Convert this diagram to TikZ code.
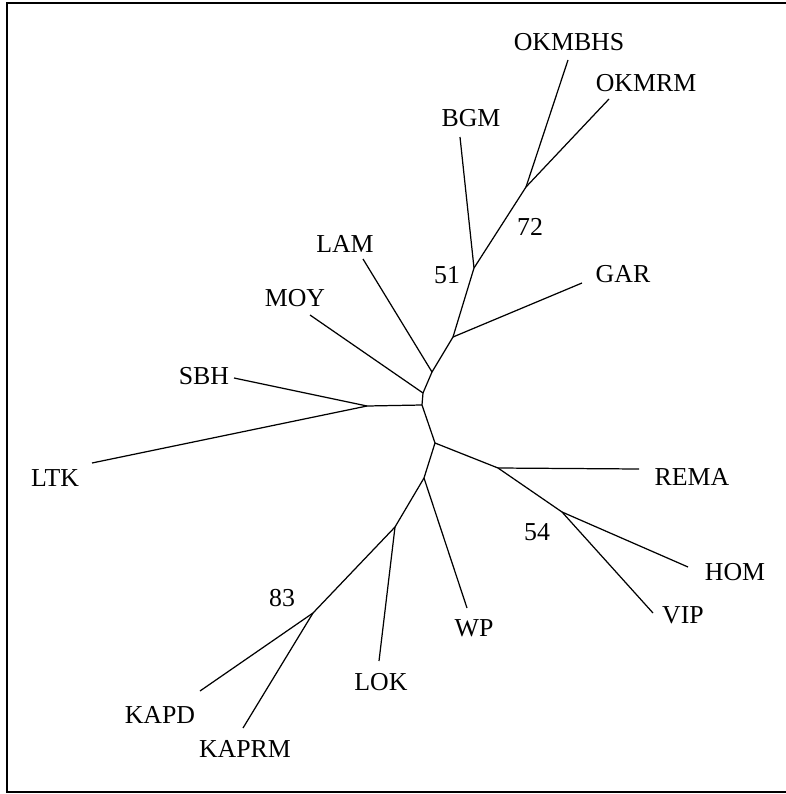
\documentclass[tikz,border=0pt]{standalone}
\usepackage{fontspec}
\setmainfont{Liberation Serif}
\usetikzlibrary{positioning}

\begin{document}
\begin{tikzpicture}[x=0.02cm,y=-0.02cm,
    branch/.style={black,line width=0.7pt},
    taxon/.style={font=\fontsize{14.7}{16}\selectfont,inner sep=0pt},
    boot/.style={font=\fontsize{14.7}{16}\selectfont,inner sep=0pt}]
    \useasboundingbox (0,0) rectangle (786,794);

    % Frame (open on the right)
    \draw[line width=1.2pt] (786,3) -- (7,3) -- (7,792) -- (786,792);

    % Internal nodes
    \coordinate (root) at (422,405);
    \coordinate (jmoy) at (423,393);
    \coordinate (jlam) at (432,372);
    \coordinate (jgar) at (453,337);
    \coordinate (j51)  at (474,268);
    \coordinate (j72)  at (526,187);
    \coordinate (jsbh) at (367,406);
    \coordinate (jrem) at (435,443);
    \coordinate (jrma) at (498,468);
    \coordinate (j54)  at (562,512);
    \coordinate (jwp)  at (424,478);
    \coordinate (jlok) at (395,527);
    \coordinate (j83)  at (313,613);

    % Tips
    \coordinate (tOKMBHS) at (568,60);
    \coordinate (tOKMRM)  at (609,99);
    \coordinate (tBGM)    at (460,137);
    \coordinate (tGAR)    at (582,283);
    \coordinate (tLAM)    at (363,259);
    \coordinate (tMOY)    at (310,315);
    \coordinate (tSBH)    at (234,378);
    \coordinate (tLTK)    at (92,463);
    \coordinate (tREMA)   at (639,469);
    \coordinate (tHOM)    at (688,567);
    \coordinate (tVIP)    at (653,613);
    \coordinate (tWP)     at (467,608);
    \coordinate (tLOK)    at (379,661);
    \coordinate (tKAPD)   at (200,691);
    \coordinate (tKAPRM)  at (243,728);

    % Branches
    \foreach \a/\b in {root/jmoy,jmoy/jlam,jlam/jgar,jgar/j51,j51/j72,
                       j72/tOKMBHS,j72/tOKMRM,j51/tBGM,jgar/tGAR,
                       jlam/tLAM,jmoy/tMOY,root/jsbh,jsbh/tSBH,jsbh/tLTK,
                       root/jrem,jrem/jrma,jrma/tREMA,jrma/j54,j54/tHOM,j54/tVIP,
                       jrem/jwp,jwp/tWP,jwp/jlok,jlok/tLOK,jlok/j83,
                       j83/tKAPD,j83/tKAPRM} {
        \draw[branch] (\a) -- (\b);
    }

    % Taxon labels
    \node[taxon] (OKMBHS) at (569,42)  {OKMBHS};
    \node[taxon] (OKMRM)  at (646,83)  {OKMRM};
    \node[taxon] (BGM)    at (471,118) {BGM};
    \node[taxon] (GAR)    at (623,274) {GAR};
    \node[taxon] (LAM)    at (345,244) {LAM};
    \node[taxon] (MOY)    at (295,298) {MOY};
    \node[taxon] (SBH)    at (204,376) {SBH};
    \node[taxon] (LTK)    at (55,478)  {LTK};
    \node[taxon] (REMA)   at (692,477) {REMA};
    \node[taxon] (HOM)    at (735,572) {HOM};
    \node[taxon] (VIP)    at (683,615) {VIP};
    \node[taxon] (WP)     at (474,628) {WP};
    \node[taxon] (LOK)    at (381,682) {LOK};
    \node[taxon] (KAPD)   at (160,715) {KAPD};
    \node[taxon] (KAPRM)  at (245,749) {KAPRM};

    % Bootstrap values
    \node[boot] (b72) at (530,227) {72};
    \node[boot] (b51) at (447,275) {51};
    \node[boot] (b54) at (537,532) {54};
    \node[boot] (b83) at (282,598) {83};
\end{tikzpicture}
\end{document}
